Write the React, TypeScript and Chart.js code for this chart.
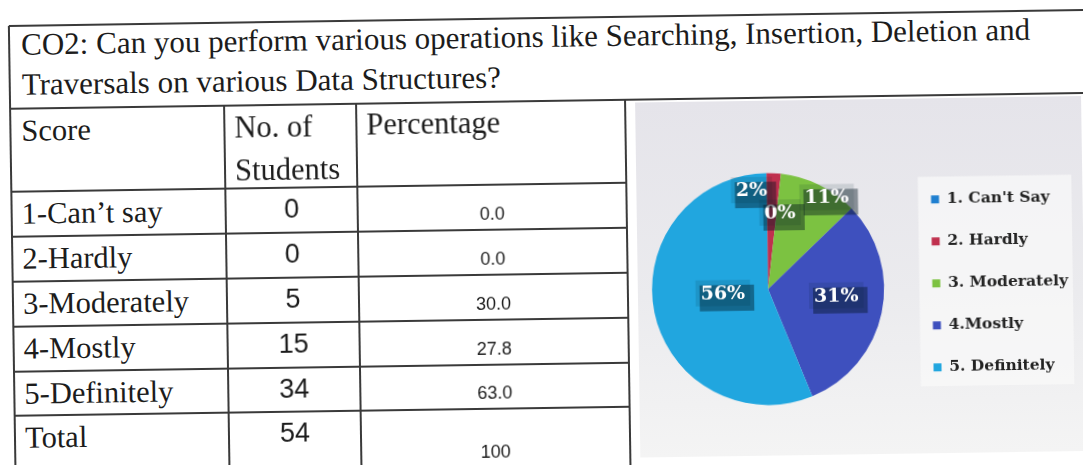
import React, { useEffect, useRef } from "react";
import { Chart, registerables } from "chart.js";

Chart.register(...registerables);

// ---------- data ----------
const titleLines = [
  "CO2: Can you perform various operations like Searching, Insertion, Deletion and",
  "Traversals on various Data Structures?",
];
const headerScore = "Score";
const headerStudents = ["No. of", "Students"];
const headerPercentage = "Percentage";
const scoreLabels = ["1-Can\u2019t say", "2-Hardly", "3-Moderately", "4-Mostly", "5-Definitely", "Total"];
const studentCounts = ["0", "0", "5", "15", "34", "54"];
const tablePercentages = ["0.0", "0.0", "30.0", "27.8", "63.0", "100"];

const pieLabels = ["1. Can't Say", "2. Hardly", "3. Moderately", "4.Mostly", "5. Definitely"];
const piePercents = [0, 2, 11, 31, 56];
const pieColors = ["#1f7fd0", "#c0304e", "#7cc241", "#3e50be", "#21a6df"];

// ---------- layout / style ----------
const LINE = "#3a3a3a";
const INK = "#1c1c1c";
const COL_X = [12, 226, 358, 627];
const Y_TOP = 18;
const Y_TITLE_BOTTOM = 101;
const Y_HEADER_BOTTOM = 184;
const ROW_BOTTOMS = [229, 274, 319, 364, 408, 467];
const PAGE_BOTTOM = 480;
const SERIF_SIZE = 30.5;
const TITLE_SIZE = 31;

const BG_LEFT = 637;
const CANVAS_LEFT = 600;
const CANVAS_TOP = 104;
const CANVAS_W = 483;
const CANVAS_H = 355;

const PIE_CX = 167.2; // canvas coords
const PIE_CY = 188.4;
const PIE_R = 116;

const LEGEND_FONT = { family: '"DejaVu Serif", serif', size: 15.5, weight: "bold" as const };
const LEGEND_PAD = 26.5;
const LEGEND_BOX = 8;
const LEGEND_LEFT_TARGET = 305; // canvas coords
const CHART_TOP_PAD = 67;

const LABEL_RADIUS = [0.5, 0.5, 0.78, 0.5, 0.5];
const LABEL_SHIFT = [
  [13, -18.4],
  [-18.7, -41.4],
  [18.9, -10.4],
  [11.5, -5.3],
  [11.7, -7.5],
];

function HLine({ x1, x2, y }: { x1: number; x2: number; y: number }) {
  return <div style={{ position: "absolute", left: x1, top: y - 0.75, width: x2 - x1, height: 1.5, background: LINE }} />;
}
function VLine({ x, y1, y2 }: { x: number; y1: number; y2: number }) {
  return <div style={{ position: "absolute", left: x - 0.75, top: y1, width: 1.5, height: y2 - y1, background: LINE }} />;
}

const serif = '"Liberation Serif", "Times New Roman", serif';
const sans = '"Liberation Sans", Arial, sans-serif';

function Text({ x, cy, children, font, size, align, w }: any) {
  const lh = size * 1.4;
  const style: any = {
    position: "absolute",
    top: cy - lh / 2,
    lineHeight: lh + "px",
    fontFamily: font,
    fontSize: size,
    color: INK,
    whiteSpace: "nowrap",
  };
  if (align === "center") {
    style.left = x - w / 2;
    style.width = w;
    style.textAlign = "center";
  } else {
    style.left = x;
  }
  return <div style={style}>{children}</div>;
}

function PieChart() {
  const ref = useRef<HTMLCanvasElement>(null);
  useEffect(() => {
    const canvas = ref.current!;
    const mctx = document.createElement("canvas").getContext("2d")!;
    mctx.font = `bold ${LEGEND_FONT.size}px ${LEGEND_FONT.family}`;
    const maxText = Math.max(...pieLabels.map((t) => mctx.measureText(t).width));
    const legendWidth = LEGEND_PAD + LEGEND_BOX + LEGEND_FONT.size / 2 + maxText + 10;
    const padRight = CANVAS_W - LEGEND_LEFT_TARGET - legendWidth;
    const padLeft = 2 * PIE_CX - LEGEND_LEFT_TARGET;
    const padBottom = CANVAS_H - (2 * PIE_CY - CHART_TOP_PAD);

    const legendBg = {
      id: "legendBg",
      beforeDraw(chart: any) {
        const boxes = chart.legend?.legendHitBoxes || [];
        if (!boxes.length) return;
        const l = Math.min(...boxes.map((b: any) => b.left)) - 13;
        const r = Math.max(...boxes.map((b: any) => b.left + b.width)) + 5;
        const t = Math.min(...boxes.map((b: any) => b.top)) - 15;
        const btm = Math.max(...boxes.map((b: any) => b.top + b.height)) + 11;
        const c = chart.ctx;
        c.save();
        c.fillStyle = "rgba(250,250,250,0.7)";
        c.fillRect(l, t, r - l, btm - t);
        c.restore();
      },
    };

    const sliceLabels = {
      id: "sliceLabels",
      afterDatasetsDraw(chart: any) {
        const meta = chart.getDatasetMeta(0);
        const c = chart.ctx;
        c.save();
        c.font = 'bold 19px "DejaVu Serif", serif';
        c.textAlign = "center";
        c.textBaseline = "middle";
        meta.data.forEach((arc: any, i: number) => {
          const p = arc.getProps(["x", "y", "startAngle", "endAngle", "outerRadius"], true);
          const mid = (p.startAngle + p.endAngle) / 2;
          const rr = p.outerRadius * LABEL_RADIUS[i];
          const px = p.x + Math.cos(mid) * rr + LABEL_SHIFT[i][0];
          const py = p.y + Math.sin(mid) * rr + LABEL_SHIFT[i][1];
          const text = piePercents[i] + "%";
          const tw = c.measureText(text).width;
          const bw = tw + 10;
          const bh = 26;
          c.fillStyle = "rgba(0,20,30,0.42)";
          c.fillRect(px - bw / 2 + 4, py - bh / 2 + 5, bw, bh);
          c.fillStyle = "rgba(0,30,40,0.12)";
          c.fillRect(px - bw / 2, py - bh / 2, bw, bh);
          c.fillStyle = "#ffffff";
          c.fillText(text, px, py + 1);
        });
        c.restore();
      },
    };

    const chart = new Chart(canvas, {
      type: "pie",
      data: {
        labels: pieLabels,
        datasets: [
          {
            data: piePercents,
            backgroundColor: pieColors,
            borderWidth: 0,
            hoverOffset: 0,
            radius: PIE_R,
          } as any,
        ],
      },
      options: {
        animation: false,
        responsive: true,
        maintainAspectRatio: false,
        events: [],
        layout: { padding: { left: padLeft, right: padRight, top: CHART_TOP_PAD, bottom: padBottom } },
        plugins: {
          tooltip: { enabled: false },
          legend: {
            position: "right",
            align: "start",
            labels: {
              boxWidth: LEGEND_BOX,
              boxHeight: LEGEND_BOX,
              padding: LEGEND_PAD,
              color: "#222222",
              font: LEGEND_FONT,
            },
          },
        },
      },
      plugins: [legendBg, sliceLabels],
    });
    return () => chart.destroy();
  }, []);
  return (
    <>
      <div
        style={{
          position: "absolute",
          left: BG_LEFT,
          top: CANVAS_TOP,
          width: CANVAS_LEFT + CANVAS_W - BG_LEFT,
          height: CANVAS_H,
          background: "linear-gradient(180deg, #e5e4ea 0%, #ebebee 55%, #f4f4f4 100%)",
        }}
      />
      <div style={{ position: "absolute", left: CANVAS_LEFT, top: CANVAS_TOP, width: CANVAS_W, height: CANVAS_H }}>
        <canvas ref={ref} />
      </div>
    </>
  );
}

export default function App() {
  const rows = scoreLabels.map((label, i) => {
    const top = i === 0 ? Y_HEADER_BOTTOM : ROW_BOTTOMS[i - 1];
    const bottom = ROW_BOTTOMS[i];
    return (
      <React.Fragment key={label}>
        <Text x={22} cy={top + 22} font={serif} size={SERIF_SIZE}>
          {label}
        </Text>
        <Text x={(COL_X[1] + COL_X[2]) / 2} cy={top + 22} font={sans} size={27} align="center" w={120}>
          {studentCounts[i]}
        </Text>
        <Text x={(COL_X[2] + COL_X[3]) / 2} cy={bottom - 15} font={sans} size={18} align="center" w={200}>
          {tablePercentages[i]}
        </Text>
      </React.Fragment>
    );
  });

  return (
    <div
      style={{
        position: "fixed",
        left: 0,
        top: 0,
        width: 1083,
        height: 465,
        overflow: "hidden",
        background: "#ffffff",
      }}
    >
      <div
        style={{
          position: "absolute",
          left: 0,
          top: 0,
          width: 1083,
          height: 465,
          transform: "rotate(-0.85deg)",
          transformOrigin: "541.5px 232.5px",
        }}
      >
        <PieChart />
        <HLine x1={COL_X[0]} x2={1100} y={Y_TOP} />
        <HLine x1={COL_X[0]} x2={1100} y={Y_TITLE_BOTTOM} />
        <HLine x1={COL_X[0]} x2={COL_X[3]} y={Y_HEADER_BOTTOM} />
        {ROW_BOTTOMS.slice(0, 5).map((y) => (
          <HLine key={y} x1={COL_X[0]} x2={COL_X[3]} y={y} />
        ))}
        <VLine x={COL_X[0]} y1={Y_TOP} y2={PAGE_BOTTOM} />
        <VLine x={COL_X[1]} y1={Y_TITLE_BOTTOM} y2={PAGE_BOTTOM} />
        <VLine x={COL_X[2]} y1={Y_TITLE_BOTTOM} y2={PAGE_BOTTOM} />
        <VLine x={COL_X[3]} y1={Y_TITLE_BOTTOM} y2={PAGE_BOTTOM} />

        <Text x={24} cy={37} font={serif} size={TITLE_SIZE}>
          {titleLines[0]}
        </Text>
        <Text x={24} cy={77} font={serif} size={TITLE_SIZE}>
          {titleLines[1]}
        </Text>

        <Text x={23} cy={123} font={serif} size={SERIF_SIZE}>
          {headerScore}
        </Text>
        <Text x={236} cy={123} font={serif} size={SERIF_SIZE}>
          {headerStudents[0]}
        </Text>
        <Text x={236} cy={166} font={serif} size={SERIF_SIZE}>
          {headerStudents[1]}
        </Text>
        <Text x={368} cy={122} font={serif} size={SERIF_SIZE}>
          {headerPercentage}
        </Text>

        {rows}
      </div>
    </div>
  );
}
